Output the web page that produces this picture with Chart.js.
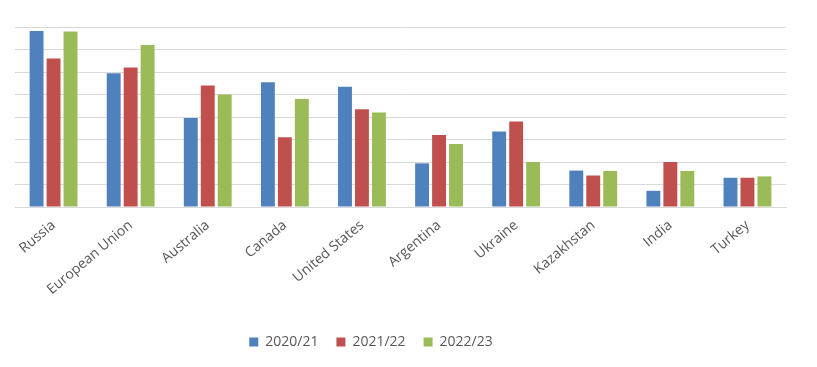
<!DOCTYPE html>
<html>
<head>
<meta charset="utf-8">
<script src="https://cdn.jsdelivr.net/npm/chart.js@4"></script>
<style>
  html, body { margin: 0; padding: 0; background: #fff; overflow: hidden; }
  #wrap { position: relative; left: -75px; width: 892px; height: 367px; }
</style>
</head>
<body>
<div id="wrap"><canvas id="exportChart"></canvas></div>
<script>
const countries = ["Russia", "European Union", "Australia", "Canada", "United States",
  "Argentina", "Ukraine", "Kazakhstan", "India", "Turkey"];
const seasons = ["2020/21", "2021/22", "2022/23"];
const exports2021 = [39.1, 29.7, 19.8, 27.7, 26.7, 9.7, 16.8, 8.1, 3.6, 6.5];
const exports2122 = [33.0, 31.0, 27.0, 15.5, 21.7, 16.0, 19.0, 7.0, 10.0, 6.5];
const exports2223 = [39.0, 36.0, 25.0, 24.0, 21.0, 14.0, 10.0, 8.0, 8.0, 6.8];

const colors = ["#4f81bd", "#c0504d", "#9bbb59"];
const values = [exports2021, exports2122, exports2223];

const ctx = document.getElementById("exportChart");

new Chart(ctx, {
  type: "bar",
  data: {
    labels: countries,
    datasets: seasons.map((s, i) => ({
      label: s,
      data: values[i],
      backgroundColor: colors[i],
      borderWidth: 0,
      categoryPercentage: 0.66,
      barPercentage: 0.82,
    })),
  },
  options: {
    responsive: true,
    maintainAspectRatio: false,
    animation: false,
    layout: { padding: { top: 27, left: 31, right: 31, bottom: 8 } },
    plugins: {
      tooltip: { enabled: false },
      legend: {
        position: "bottom",
        labels: {
          boxWidth: 9,
          boxHeight: 9,
          padding: 18,
          color: "#595959",
          font: { family: "Open Sans", size: 14 },
        },
      },
    },
    scales: {
      x: {
        grid: { display: false },
        border: { color: "#d9d9d9" },
        ticks: {
          color: "#595959",
          font: { family: "Open Sans", size: 14 },
          minRotation: 40,
          maxRotation: 40,
          padding: 2,
        },
        afterFit: (scale) => { scale.height = 110; },
      },
      y: {
        min: 0,
        max: 40,
        ticks: { display: false, stepSize: 5 },
        border: { display: false },
        grid: { color: "#d9d9d9", drawTicks: false },
        afterFit: (scale) => { scale.width = 59; },
      },
    },
  },
});
</script>
</body>
</html>
